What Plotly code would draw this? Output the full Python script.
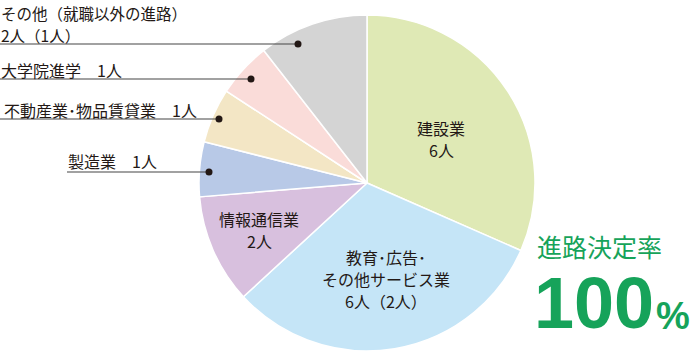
import plotly.graph_objects as go

# data
categories = ["建設業", "教育・広告・その他サービス業", "情報通信業", "製造業",
              "不動産業・物品賃貸業", "大学院進学", "その他（就職以外の進路）"]
values = [6, 6, 2, 1, 1, 1, 2]
colors = ["#dfe9b5", "#c5e5f7", "#d8c0de", "#b8c9e7", "#f3e6c5", "#fadcd9", "#d4d4d4"]

# (lines, center x, y of first line)
inside_labels = [
    (["建設業", "6人"], 441, 128),
    (["教育･広告･", "その他サービス業", "6人（2人）"], 386, 257),
    (["情報通信業", "2人"], 259, 219),
]
# (text lines, text x, text top of first line, line y, line x start, dot x)
outside_labels = [
    (["その他（就職以外の進路）", "2人（1人）"], 0, 0.5, 44, 0, 298),
    (["大学院進学　1人"], 0, 56.5, 79, 0, 251),
    (["不動産業･物品賃貸業　1人"], 3, 96.5, 119, 0, 219),
    (["製造業　1人"], 67, 147.5, 172, 67, 209),
]

W, H = 691, 351
cx, cy, r = 367, 183, 168
font_jp = "Noto Sans CJK JP"
txt_col = "#231815"

fig = go.Figure()
fig.add_trace(go.Pie(
    labels=categories, values=values, sort=False, direction="clockwise", rotation=0,
    marker=dict(colors=colors, line=dict(color="white", width=1.5)),
    textinfo="none", hoverinfo="label+value", showlegend=False,
    domain=dict(x=[(cx - r) / W, (cx + r) / W], y=[(H - cy - r) / H, (H - cy + r) / H]),
))
# invisible pixel-coordinate axes
fig.add_trace(go.Scatter(x=[], y=[], showlegend=False))

for lines, x, y in inside_labels:
    for i, line in enumerate(lines):
        fig.add_annotation(x=x, y=y + 22 * i, text=line, showarrow=False, xref="x", yref="y",
                           yanchor="middle", borderpad=0,
                           font=dict(family=font_jp, size=16, color=txt_col))

for lines, tx, ty, ly, lx0, dx in outside_labels:
    fs = 16 if len(lines) == 1 else 15.5
    for i, line in enumerate(lines):
        fig.add_annotation(x=tx, y=ty + 22.5 * i, text=line, showarrow=False, xref="x", yref="y",
                           xanchor="left", yanchor="top", borderpad=0,
                           font=dict(family=font_jp, size=fs, color=txt_col))
    fig.add_shape(type="line", x0=lx0, x1=dx, y0=ly, y1=ly, xref="x", yref="y",
                  line=dict(color="#444", width=1.2))
    fig.add_shape(type="circle", x0=dx - 3.5, x1=dx + 3.5, y0=ly - 3.5, y1=ly + 3.5,
                  xref="x", yref="y", fillcolor="#231815", line=dict(width=0))

green = "#16a35a"
fig.add_annotation(x=535, y=246, text="進路決定率", showarrow=False, xref="x", yref="y",
                   xanchor="left", yanchor="middle",
                   font=dict(family=font_jp, size=25, color=green))
fig.add_annotation(x=532, y=303, text="100", showarrow=False, xref="x", yref="y",
                   xanchor="left", yanchor="middle",
                   font=dict(family="Liberation Sans", size=72, color=green, weight="bold"))
fig.add_annotation(x=654, y=316, text="%", showarrow=False, xref="x", yref="y",
                   xanchor="left", yanchor="middle",
                   font=dict(family="Liberation Sans", size=38, color=green, weight="bold"))

fig.update_layout(
    width=W, height=H, margin=dict(l=0, r=0, t=0, b=0),
    paper_bgcolor="white", plot_bgcolor="rgba(0,0,0,0)",
    xaxis=dict(range=[0, W], visible=False, fixedrange=True),
    yaxis=dict(range=[H, 0], visible=False, fixedrange=True),
)
fig.write_html("out.html")
